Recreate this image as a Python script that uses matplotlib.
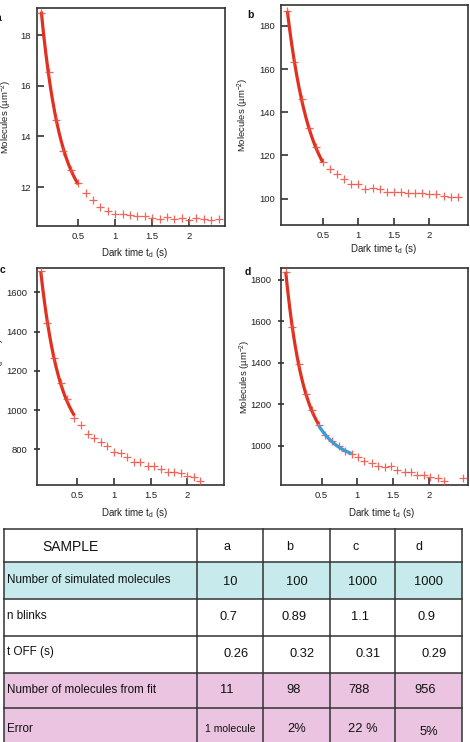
import numpy as np
import matplotlib
matplotlib.use('Agg')
import matplotlib.pyplot as plt
from matplotlib.patches import Rectangle

plt.rcParams['font.family'] = ['Liberation Sans', 'DejaVu Sans']
plt.rcParams['mathtext.fontset'] = 'custom'
plt.rcParams['mathtext.rm'] = 'Liberation Sans'
plt.rcParams['mathtext.it'] = 'Liberation Sans:italic'
plt.rcParams['mathtext.bf'] = 'Liberation Sans:bold'

# ---------------- data ----------------
t_a = [0.0, 0.1, 0.2, 0.3, 0.4, 0.5, 0.6, 0.7, 0.8, 0.9, 1.0, 1.1, 1.2, 1.3, 1.4,
       1.5, 1.6, 1.7, 1.8, 1.9, 2.0, 2.1, 2.2, 2.3, 2.4]
n_a = [18.88, 16.55, 14.64, 13.42, 12.66, 12.16, 11.76, 11.47, 11.21, 11.05, 10.94,
       10.92, 10.88, 10.85, 10.84, 10.78, 10.74, 10.80, 10.74, 10.76, 10.70, 10.76,
       10.72, 10.71, 10.74]

t_b = [0.0, 0.1, 0.2, 0.3, 0.4, 0.5, 0.6, 0.7, 0.8, 0.9, 1.0, 1.1, 1.2, 1.3, 1.4,
       1.5, 1.6, 1.7, 1.8, 1.9, 2.0, 2.1, 2.2, 2.3, 2.4]
n_b = [186.9, 163.5, 146.2, 132.6, 124.1, 116.8, 113.7, 111.6, 109.1, 106.9, 106.9,
       104.6, 104.8, 104.3, 103.2, 103.2, 102.9, 102.8, 102.5, 102.5, 102.2, 102.2,
       101.2, 100.9, 100.9]

t_c = [0.0, 0.09, 0.18, 0.27, 0.36, 0.46, 0.55, 0.64, 0.73, 0.82, 0.91, 1.0, 1.09,
       1.18, 1.27, 1.36, 1.46, 1.55, 1.64, 1.73, 1.82, 1.91, 2.0, 2.09, 2.18]
n_c = [1710, 1442, 1264, 1140, 1057, 961, 924, 878, 856, 836, 815, 785, 780, 759,
       737, 736, 715, 714, 700, 686, 686, 678, 666, 657, 640]

t_d = [0.0, 0.09, 0.18, 0.28, 0.37, 0.46, 0.55, 0.64, 0.74, 0.83, 0.92, 1.01, 1.10,
       1.20, 1.29, 1.38, 1.47, 1.56, 1.66, 1.75, 1.84, 1.93, 2.02, 2.12, 2.21, 2.48]
n_d = [1840, 1575, 1393, 1248, 1172, 1098, 1052, 1020, 996, 976, 960, 947, 926,
       915, 902, 895, 902, 882, 874, 874, 858, 858, 850, 842, 829, 845]

# table values
samples = ['a', 'b', 'c', 'd']
sim_molecules = ['10', '100', '1000', '1000']
n_blinks = [0.7, 0.89, 1.1, 0.9]
t_off = [0.26, 0.32, 0.31, 0.29]
fit_molecules = [11, 98, 788, 956]
errors = ['1 molecule', '2%', '22 %', '5%']

# number of leading points covered by the red fit, and the blue segment of d
red_fit_points = [6, 6, 6, 6]
blue_fit_points_d = (5, 11)

# ---------------- style ----------------
RED_LINE = '#e2301f'
RED_MARK = '#f04a3e'
BLUE = '#3f9bd6'
SPINE = '#333333'
TEAL = '#c7ebec'
PINK = '#eac4e0'

W, H = 470, 742
fig = plt.figure(figsize=(W / 100, H / 100), dpi=100)


def px_rect(l, t, r, b):
    return [l / W, 1 - b / H, (r - l) / W, (b - t) / H]


def exp_fit(t, n):
    """Least-squares fit of n = c + a*exp(-t/tau); returns a callable."""
    t = np.asarray(t, float)
    n = np.asarray(n, float)
    best = None
    for tau in np.linspace(0.03, 3.0, 3000):
        M = np.column_stack([np.ones_like(t), np.exp(-t / tau)])
        coef, *_ = np.linalg.lstsq(M, n, rcond=None)
        res = np.sum((M @ coef - n) ** 2)
        if best is None or res < best[0]:
            best = (res, tau, coef)
    _, tau, (c, a) = best
    return lambda x: c + a * np.exp(-np.asarray(x) / tau)


panels = [
    dict(rect=px_rect(36.7, 8, 225.3, 226), t=t_a, n=n_a, xlim=(-0.062, 2.49),
         ylim=(10.46, 19.07), yticks=[12, 14, 16, 18], tdir='in',
         ylab=(-0.12, 0.5), xlab=(0.52, -0.09)),
    dict(rect=px_rect(281, 5, 467.7, 225), t=t_b, n=n_b, xlim=(-0.089, 2.54),
         ylim=(87.8, 189.7), yticks=[100, 120, 140, 160, 180], tdir='in',
         ylab=(-0.16, 0.5), xlab=(0.55, -0.078)),
    dict(rect=px_rect(36.7, 268.3, 224.3, 485), t=t_c, n=n_c, xlim=(-0.055, 2.505),
         ylim=(618, 1722), yticks=[800, 1000, 1200, 1400, 1600], tdir='inout',
         ylab=(-0.158, 0.51), xlab=(0.52, -0.097)),
    dict(rect=px_rect(280.7, 268.3, 468.3, 485), t=t_d, n=n_d, xlim=(-0.07, 2.55),
         ylim=(810, 1856), yticks=[1000, 1200, 1400, 1600, 1800], tdir='inout',
         ylab=(-0.15, 0.5), xlab=(0.535, -0.097)),
]

for i, p in enumerate(panels):
    ax = fig.add_axes(p['rect'])
    k = red_fit_points[i]
    f = exp_fit(p['t'][:k], p['n'][:k])
    tt = np.linspace(p['t'][0], p['t'][k - 1], 200)
    ax.plot(tt, f(tt), color=RED_LINE, lw=2.3, zorder=3, solid_capstyle='butt')
    if i == 3:
        s, e = blue_fit_points_d
        fb = exp_fit(p['t'][s:e], p['n'][s:e])
        tb = np.linspace(p['t'][s], p['t'][e - 1], 200)
        ax.plot(tb, fb(tb), color=BLUE, lw=2.4, zorder=5, solid_capstyle='butt')
    ax.plot(p['t'], p['n'], ls='none', marker='+', ms=5.5, mew=0.9,
            color=RED_MARK, zorder=4, alpha=0.85)
    ax.set_xlim(*p['xlim'])
    ax.set_ylim(*p['ylim'])
    ax.set_xticks([0.5, 1, 1.5, 2])
    ax.set_xticklabels(['0.5', '1', '1.5', '2'])
    ax.set_yticks(p['yticks'])
    for sp in ax.spines.values():
        sp.set_color(SPINE)
        sp.set_linewidth(1.2)
    ax.tick_params(axis='x', direction='in', length=5, width=1.2, color=SPINE,
                   labelsize=6.8, pad=4, labelcolor='#222222')
    ax.tick_params(axis='y', direction=p['tdir'], length=5, width=1.2, color=SPINE,
                   labelsize=6.8, pad=4, labelcolor='#222222')
    ax.set_ylabel('Molecules (µm$^{-2}$)', fontsize=6.8, color='#222222')
    ax.yaxis.set_label_coords(*p['ylab'])
    ax.set_xlabel('Dark time t$_{\\mathregular{d}}$ (s)', fontsize=7.0, color='#222222')
    ax.xaxis.set_label_coords(*p['xlab'])

# panel letters
for letter, (x, y) in zip(samples, [(-1, 18), (250, 15), (3, 270), (248, 272)]):
    fig.text(x / W, 1 - y / H, letter, fontsize=7.5, fontweight='bold',
             ha='center', va='center', color='#111111')

# ---------------- table ----------------
tax = fig.add_axes([0, 0, 1, 1], zorder=-1)
tax.set_xlim(0, W)
tax.set_ylim(H, 0)
tax.axis('off')

col_x = [4, 197, 263, 330, 395, 462]
row_y = [529, 562, 599, 636, 673, 708, 742]
row_fill = [None, TEAL, None, None, PINK, PINK]
for r, fc in enumerate(row_fill):
    if fc:
        tax.add_patch(Rectangle((col_x[0], row_y[r]), col_x[-1] - col_x[0],
                                row_y[r + 1] - row_y[r], facecolor=fc,
                                edgecolor='none'))
for y in row_y[:-1]:
    tax.plot([col_x[0], col_x[-1]], [y, y], color=SPINE, lw=1.1)
for x in col_x:
    tax.plot([x, x], [row_y[0], row_y[-1]], color=SPINE, lw=1.1)

row_labels = ['Number of simulated molecules', 'n blinks', 't OFF (s)',
              'Number of molecules from fit', 'Error']
row_values = [sim_molecules,
              [str(v) for v in n_blinks],
              [str(v) for v in t_off],
              [str(v) for v in fit_molecules],
              errors]
label_y = [580, 616, 652, 690, 729]
value_y = [582, 617, 654, 690, 729]
col_cx = [230, 296.5, 362.5, 428.5]
header_x = [227, 290, 356, 419]
row_shift = [0, -2, 6, -3, 0]

tax.text(70, 547, 'SAMPLE', fontsize=10, ha='center', va='center', color='#111111')
for j, s in enumerate(samples):
    tax.text(header_x[j], 547, s, fontsize=9, ha='center', va='center',
             color='#111111')
for r in range(5):
    tax.text(7, label_y[r], row_labels[r], fontsize=8.4, ha='left', va='center',
             color='#111111')
    for j in range(4):
        v = row_values[r][j]
        fs = 7.5 if v == '1 molecule' else 9.3
        tax.text(col_cx[j] + row_shift[r], value_y[r] + (3 if r == 4 and j == 3 else 0),
                 v, fontsize=fs, ha='center', va='center', color='#111111')

fig.savefig('out.png', dpi=100)
